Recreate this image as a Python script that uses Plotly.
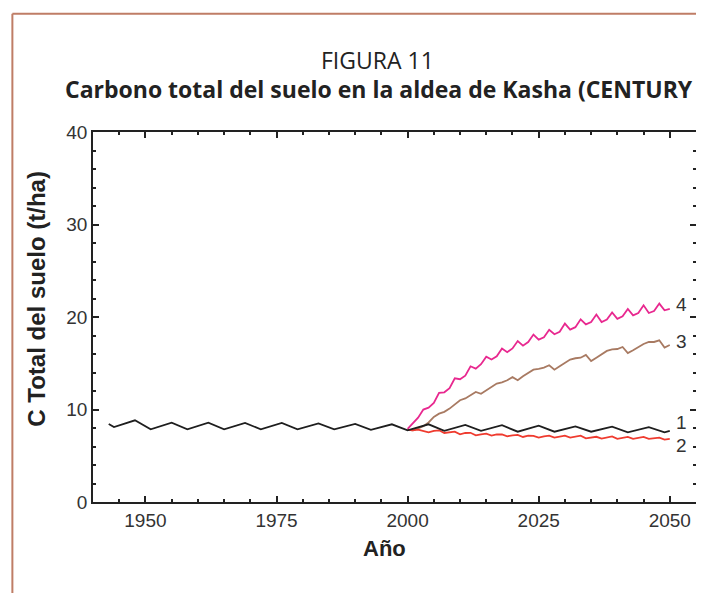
import plotly.graph_objects as go

# escenario 1 (linea negra), vertices
anio_1 = [1943, 1944, 1948, 1951, 1955, 1958, 1962, 1965, 1969, 1972, 1976, 1979,
          1983, 1986, 1990, 1993, 1997, 2000, 2004, 2007, 2011, 2014, 2018, 2021,
          2025, 2028, 2032, 2035, 2039, 2042, 2046, 2049, 2050]
c_1 = [8.43, 8.1, 8.83, 7.86, 8.58, 7.86, 8.58, 7.86, 8.55, 7.86, 8.55, 7.86,
       8.5, 7.86, 8.45, 7.8, 8.4, 7.75, 8.4, 7.7, 8.33, 7.7, 8.3, 7.6,
       8.26, 7.6, 8.18, 7.6, 8.15, 7.53, 8.1, 7.53, 7.68]

anio_fut = list(range(2000, 2051))

c_2 = [7.8, 7.75, 7.83, 7.65, 7.53, 7.68, 7.75, 7.46, 7.57, 7.6,
       7.32, 7.46, 7.48, 7.21, 7.32, 7.39, 7.18, 7.32, 7.3, 7.1,
       7.21, 7.25, 7.03, 7.18, 7.15, 6.96, 7.1, 7.18, 6.96, 7.08,
       7.18, 6.96, 7.08, 7.18, 6.89, 6.98, 7.05, 6.85, 6.98, 7.1,
       6.82, 6.95, 7.03, 6.82, 6.93, 7.03, 6.82, 6.9, 6.96, 6.75,
       6.82]

c_3 = [7.8, 7.75, 7.95, 8.2, 8.6, 9.2, 9.55, 9.75, 10.1, 10.6,
       11.0, 11.2, 11.55, 11.9, 11.7, 12.07, 12.5, 12.8, 12.94, 13.16,
       13.5, 13.16, 13.6, 13.95, 14.3, 14.4, 14.52, 14.78, 14.3, 14.67,
       15.03, 15.4, 15.54, 15.6, 15.9, 15.24, 15.6, 15.97, 16.33, 16.5,
       16.54, 16.76, 16.1, 16.4, 16.76, 17.08, 17.3, 17.3, 17.48, 16.7,
       16.97]

c_4 = [7.9, 8.47, 9.12, 9.99, 10.2, 10.7, 11.8, 11.86, 12.3, 13.37,
       13.27, 13.66, 14.67, 14.42, 14.9, 15.7, 15.4, 15.75, 16.6, 16.2,
       16.6, 17.4, 16.9, 17.3, 18.1, 17.55, 17.8, 18.62, 18.13, 18.4,
       19.29, 18.64, 18.9, 19.75, 19.2, 19.46, 20.26, 19.46, 19.72, 20.5,
       19.8, 20.07, 20.87, 20.18, 20.43, 21.26, 20.43, 20.65, 21.45, 20.72,
       20.87]

etiquetas = ['1', '2', '3', '4']
y_etiquetas = [8.55, 6.15, 17.3, 21.4]

fig = go.Figure()

fig.add_trace(go.Scatter(x=anio_fut, y=c_3, mode='lines',
                         line=dict(color='#a87a62', width=1.8)))
fig.add_trace(go.Scatter(x=anio_fut, y=c_4, mode='lines',
                         line=dict(color='#e8288f', width=1.8)))
fig.add_trace(go.Scatter(x=anio_fut, y=c_2, mode='lines',
                         line=dict(color='#ef3b2f', width=1.8)))
fig.add_trace(go.Scatter(x=anio_1, y=c_1, mode='lines',
                         line=dict(color='#1e1e1e', width=1.8)))

for t, yv in zip(etiquetas, y_etiquetas):
    fig.add_annotation(x=2051.0, y=yv, text=t, showarrow=False, xanchor='left',
                       yanchor='middle', borderpad=0,
                       font=dict(family='Liberation Sans', size=19, color='#333'))

fig.add_annotation(xref='paper', yref='paper', x=0.472, y=1.195, text='FIGURA 11',
                   xanchor='center', yanchor='middle', showarrow=False,
                   font=dict(family='Open Sans', size=23, color='#222'))
fig.add_annotation(xref='paper', yref='paper', x=0.475, y=1.116,
                   text='<b>Carbono total del suelo en la aldea de Kasha (CENTURY</b>',
                   xanchor='center', yanchor='middle', showarrow=False,
                   font=dict(family='Open Sans', size=23, color='#222'))
fig.add_annotation(xref='paper', yref='paper', x=-0.0932, y=0.549,
                   text='<b>C Total del suelo (t/ha)</b>', textangle=-90, showarrow=False,
                   xanchor='center', yanchor='middle',
                   font=dict(family='Liberation Sans', size=24, color='#222'))
fig.add_annotation(xref='paper', yref='paper', x=0.484, y=-0.127, text='<b>Año</b>',
                   xanchor='center', yanchor='middle', showarrow=False,
                   font=dict(family='Liberation Sans', size=22, color='#222'))

# marco del recuadro (borde izquierdo y superior)
fig.add_shape(type='line', xref='paper', yref='paper',
              x0=-0.1337, y0=-0.3, x1=-0.1337, y1=1.3195,
              line=dict(color='#bf7d66', width=2))
fig.add_shape(type='line', xref='paper', yref='paper',
              x0=-0.1337, y0=1.3195, x1=1.0099, y1=1.3195,
              line=dict(color='#bf7d66', width=2))

fig.update_xaxes(range=[1940, 2055], tickvals=[1950, 1975, 2000, 2025, 2050],
                 ticks='inside', ticklen=6, tickwidth=1.5, tickcolor='#222',
                 minor=dict(ticks='inside', dtick=5, ticklen=3, tickcolor='#222'),
                 showline=True, linecolor='#222', linewidth=1.5, mirror='allticks',
                 showgrid=False, zeroline=False,
                 tickfont=dict(family='Liberation Sans', size=19, color='#333'))
fig.update_yaxes(range=[0, 40], dtick=10,
                 ticks='inside', ticklen=6, tickwidth=1.5, tickcolor='#222',
                 minor=dict(ticks='inside', dtick=2, ticklen=3, tickcolor='#222'),
                 showline=True, linecolor='#222', linewidth=1.5, mirror='allticks',
                 showgrid=False, zeroline=False,
                 tickfont=dict(family='Liberation Sans', size=19, color='#333'))

# la pagina deja 8 px de margen, por eso la figura es 8 px menor
fig.update_layout(width=696, height=585, showlegend=False,
                  plot_bgcolor='white', paper_bgcolor='white',
                  margin=dict(l=85, r=6, t=124, b=91))

fig.write_html("out.html", config={'displayModeBar': False})
